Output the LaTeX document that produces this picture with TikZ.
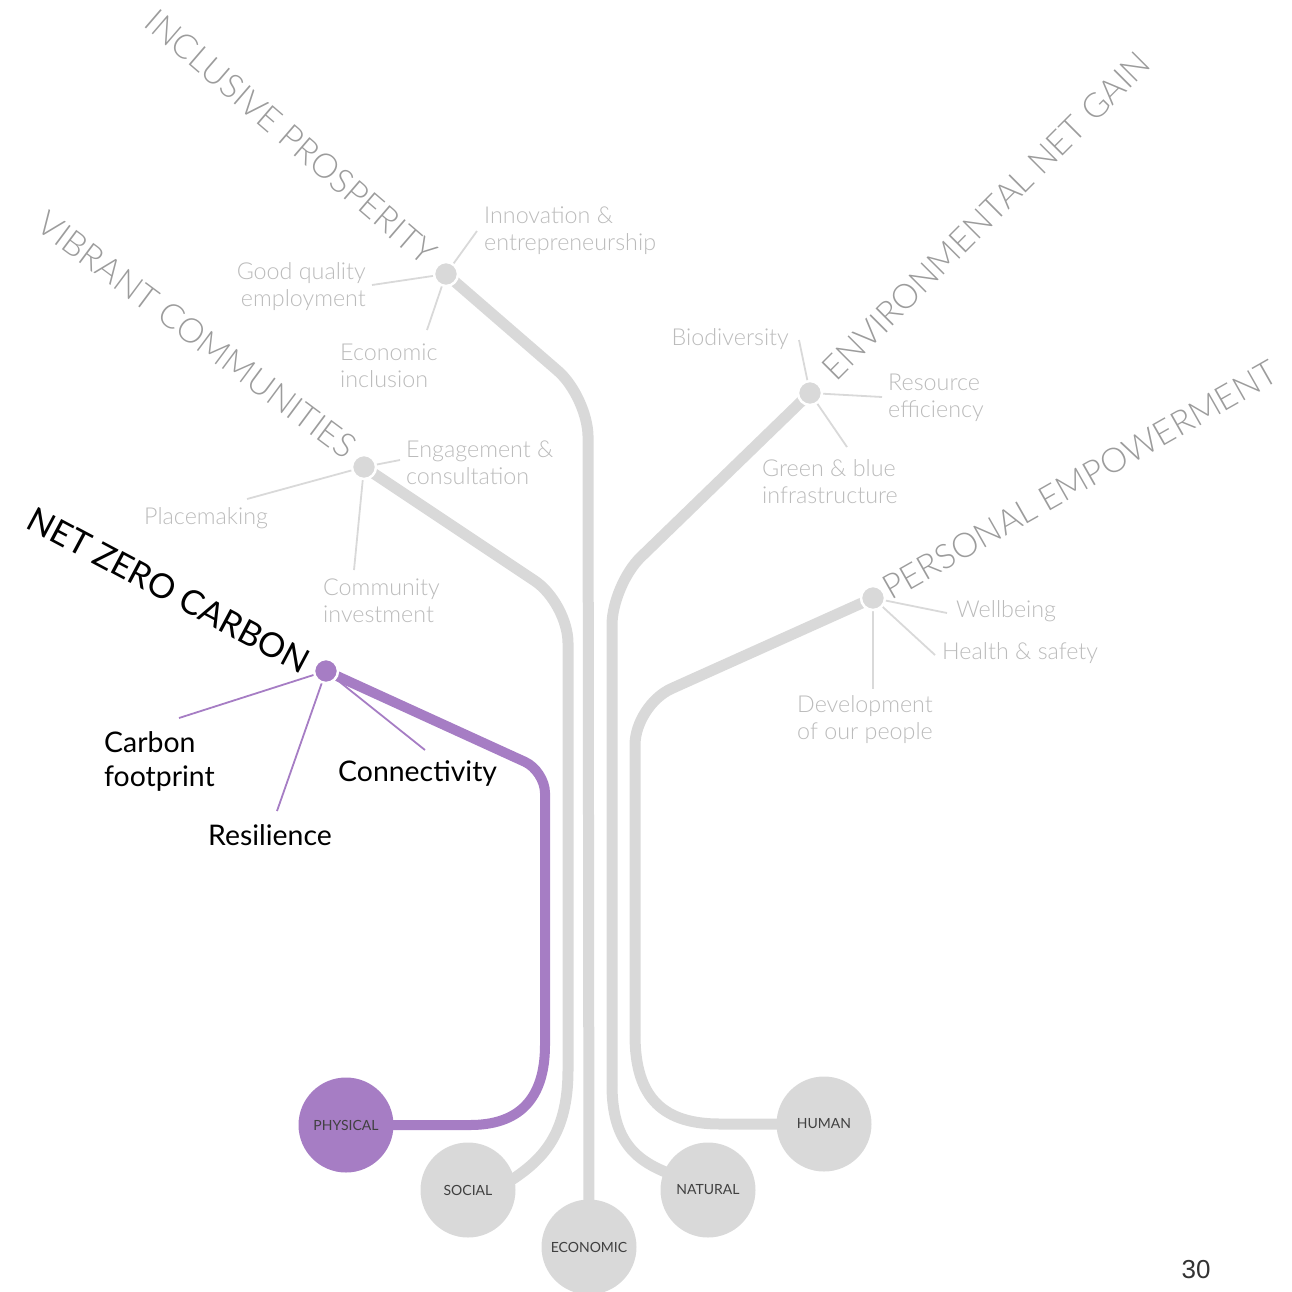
\documentclass[tikz,border=0pt]{standalone}
\usepackage{fontspec}
\setmainfont{Lato}
\newfontfamily\lt{Lato Light}
\newfontfamily\arial{Liberation Sans}
\usetikzlibrary{backgrounds}
\definecolor{lg}{HTML}{D9D9D9}
\definecolor{lblc}{HTML}{BBBBBB}
\definecolor{ttlc}{HTML}{9C9C9C}
\definecolor{pur}{HTML}{A67DC4}
\definecolor{dk}{HTML}{404040}
\begin{document}
\begin{tikzpicture}[x=1pt,y=-1pt,
 trunk/.style={draw=lg,line width=11pt},
 ptrunk/.style={draw=pur,line width=10pt},
 spoke/.style={draw=lg,line width=1.8pt},
 pspoke/.style={draw=pur,line width=1.8pt},
 hub/.style={circle,fill=lg,draw=white,line width=2.5pt,minimum size=24pt,inner sep=0},
 phub/.style={hub,fill=pur},
 capital/.style={circle,fill=lg,minimum size=95pt,inner sep=0,text=dk,font=\fontsize{14}{16}\selectfont},
 lbl/.style={text=lblc,font=\lt\fontsize{23.3}{27}\selectfont,inner sep=0,align=left},
 blbl/.style={text=black,font=\fontsize{28.4}{34}\selectfont,inner sep=0,align=left},
 ttl/.style={text=ttlc,font=\lt\fontsize{34}{34}\selectfont,inner sep=0},
]
\useasboundingbox (0,0) rectangle (1292,1291);

% hubs
\node[hub] (ip) at (446,274) {};
\node[hub] (vc) at (364,467) {};
\node[phub] (nzc) at (326,671) {};
\node[hub] (eng) at (810,393) {};
\node[hub] (pe) at (873,598) {};

% capitals
\node[capital,fill=pur] (phy) at (346,1125) {PHYSICAL};
\node[capital] (soc) at (468,1190) {SOCIAL};
\node[capital] (eco) at (589,1247) {ECONOMIC};
\node[capital] (nat) at (708,1190) {NATURAL};
\node[capital] (hum) at (824,1124) {HUMAN};

% bend points and spoke ends
\coordinate (socB) at (568,1070);
\coordinate (natB) at (612,1085);
\coordinate (humB) at (635,1035);
\coordinate (phyB) at (545,1045);
\coordinate (ipA) at (477,231);
\coordinate (ipB) at (372,285);
\coordinate (ipC) at (427,330);
\coordinate (vcA) at (400,460);
\coordinate (vcB) at (247,499);
\coordinate (vcC) at (354,570);
\coordinate (nzA) at (179,718);
\coordinate (nzB) at (277,811);
\coordinate (nzC) at (425,750);
\coordinate (enA) at (799,340);
\coordinate (enB) at (882,397);
\coordinate (enC) at (847,447);
\coordinate (peA) at (947,613);
\coordinate (peB) at (935,655);
\coordinate (peC) at (873,689);

\begin{pgfonlayer}{background}
 \draw[trunk,rounded corners=40] (ip.center) -- (588,397) -- (eco.center);
 \draw[trunk,rounded corners=40] (vc.center) -- (568,603) -- (socB);
 \draw[trunk] (socB) .. controls (568,1135) and (542,1160) .. (510,1181) -- (soc.center);
 \draw[trunk,rounded corners=40] (eng.center) -- (612,585) -- (natB);
 \draw[trunk] (natB) .. controls (612,1140) and (635,1160) .. (668,1173) -- (nat.center);
 \draw[trunk,rounded corners=40] (pe.center) -- (635,705) -- (humB);
 \draw[trunk] (humB) .. controls (635,1100) and (665,1124) .. (720,1124) -- (hum.center);
 \draw[ptrunk,rounded corners=22] (nzc.center) -- (545,771) -- (phyB);
 \draw[ptrunk] (phyB) .. controls (545,1100) and (518,1125) .. (470,1125) -- (phy.center);
 \foreach \e in {ipA,ipB,ipC}{\draw[spoke] (ip.center) -- (\e);}
 \foreach \e in {vcA,vcB,vcC}{\draw[spoke] (vc.center) -- (\e);}
 \foreach \e in {enA,enB,enC}{\draw[spoke] (eng.center) -- (\e);}
 \foreach \e in {peA,peB,peC}{\draw[spoke] (pe.center) -- (\e);}
 \foreach \e in {nzA,nzB,nzC}{\draw[pspoke] (nzc.center) -- (\e);}
\end{pgfonlayer}

% titles
\node[ttl,rotate=-40.7] (tip) at (291,137) {INCLUSIVE PROSPERITY};
\node[ttl,rotate=-36.7] (tvc) at (197,335) {VIBRANT COMMUNITIES};
\node[ttl,text=black,font=\fontsize{34}{34}\selectfont,rotate=-28] (tnz) at (169,590) {NET ZERO CARBON};
\node[ttl,rotate=45] (ten) at (986,216) {ENVIRONMENTAL NET GAIN};
\node[ttl,rotate=29.6] (tpe) at (1080,480) {PERSONAL EMPOWERMENT};

% labels
\node[lbl,anchor=west] (lipA) at (484,231) {Innovation \&\\entrepreneurship};
\node[lbl,anchor=east,align=right] (lipB) at (366,287) {Good quality\\employment};
\node[lbl,anchor=west] (lipC) at (340,366) {Economic\\inclusion};
\node[lbl,anchor=west] (lvcA) at (406,463) {Engagement \&\\consultation};
\node[lbl,anchor=west] (lvcB) at (144,518) {Placemaking};
\node[lbl,anchor=west] (lvcC) at (323,601) {Community\\investment};
\node[lbl,anchor=east,align=right] (lenA) at (789,339) {Biodiversity};
\node[lbl,anchor=west] (lenB) at (888,398) {Resource\\efficiency};
\node[lbl,anchor=west] (lenC) at (762,482) {Green \& blue\\infrastructure};
\node[lbl,anchor=west] (lpeA) at (956,611) {Wellbeing};
\node[lbl,anchor=west] (lpeB) at (942,653) {Health \& safety};
\node[lbl,anchor=west] (lpeC) at (797,720) {Development\\of our people};
\node[blbl,anchor=west] (lnzA) at (104,761) {Carbon\\footprint};
\node[blbl,anchor=west] (lnzC) at (338,774) {Connectivity};
\node[blbl,anchor=west] (lnzB) at (208,835) {Resilience};

\node[text=dk!80!black,font=\arial\fontsize{26}{26}\selectfont,inner sep=0] (pg) at (1196,1270) {30};
\end{tikzpicture}
\end{document}
